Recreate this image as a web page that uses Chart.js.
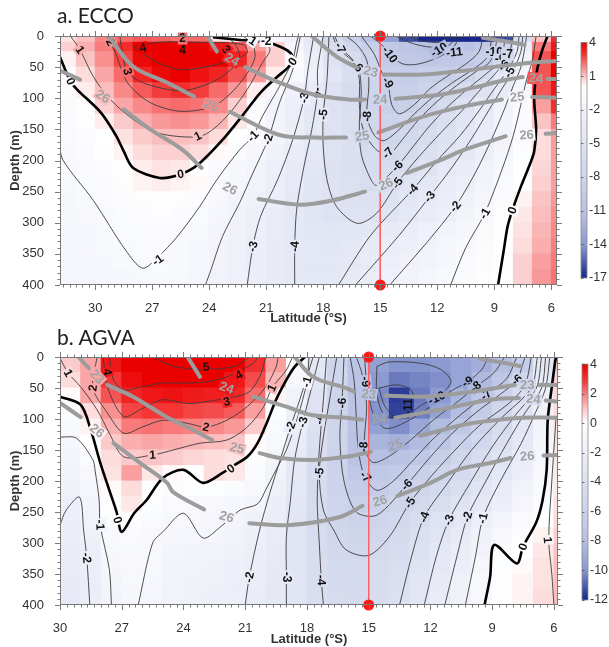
<!DOCTYPE html>
<html>
<head>
<meta charset="utf-8">
<script src="https://cdn.jsdelivr.net/npm/chart.js@4.4.1/dist/chart.umd.min.js"></script>
<style>
body{margin:0;background:#fff;width:609px;height:647px;overflow:hidden;position:relative}
.ttl{position:absolute;left:57px;font:21px Lato,'Open Sans',sans-serif;color:#222;line-height:26px}
#wa{position:absolute;left:0;top:0}
#wb{position:absolute;left:0;top:325px}
</style>
</head>
<body>
<div id="wa"><canvas id="ca" width="609" height="330"></canvas></div>
<div id="wb"><canvas id="cb" width="609" height="322"></canvas></div>
<div class="ttl" style="top:2px">a. ECCO</div>
<div class="ttl" style="top:324px">b. AGVA</div>
<script>
// ---- data ----
const xTicks = [30,27,24,21,18,15,12,9,6];
const depthTicks = [0,50,100,150,200,250,300,350,400];
const cbTicksA = [4,1,-2,-5,-8,-11,-14,-17];
const cbTicksB = [4,2,0,-2,-4,-6,-8,-10,-12];
const sectionLat = 15;

// panel a (ECCO) cells: rows = depth bands, columns = 1 degree bands
const latEdgesA = [32,31,30,29,28,27,26,25,24,23,22,21,20,19,18,17,16,15,14,13,12,11,10,9,8,7,6,5];
const depthEdgesA = [0,10,25,50,75,100,125,150,175,200,225,250,275,300,325,350,375,400];
const cellsA = [
 [0.5,1,1.8,2.2,2.4,2.3,2.1,2.2,0.5,-0.5,-1,-1.5,-2.5,-4,-6.5,-9,-11,-13.5,-16,-17,-17,-17,-17,-16,-6,1,3],
 [0.8,1.3,2.0,3.0,4.0,4.5,4.5,4.3,3.5,2.5,1.5,0.8,-1.5,-3.5,-6,-7.5,-9,-10,-10.5,-11,-11.5,-11,-10,-8,-3,2,3.5],
 [0.2,1.0,1.7,2.7,3.8,4.5,4.6,4.4,4.0,3.2,2.0,0.8,-0.6,-2.8,-4.8,-6.2,-8,-9.5,-10,-10.2,-10,-9.7,-9,-7,-2,2.5,4],
 [-0.3,0.6,1.4,2.2,3.2,3.8,4.0,3.6,3.2,2.5,1.6,0.3,-1.0,-2.6,-4.3,-5.8,-7.5,-9,-9.2,-9,-9,-8,-6.5,-4,-1.5,2.5,4],
 [-0.5,0.3,1.1,1.8,2.4,2.8,3.0,2.8,2.2,1.6,0.3,-1.2,-2.5,-3.7,-5,-6.5,-7.8,-8.8,-9,-8.3,-7.2,-6.2,-5,-3.5,-1.5,2.5,3.5],
 [-0.8,-0.1,0.8,1.4,1.8,2.1,2.2,2.1,1.8,0.8,-0.6,-1.8,-2.8,-4,-5.2,-5.8,-8,-8.9,-8.7,-8,-6.5,-5,-3.6,-2,-0.8,1.5,3],
 [-0.8,-0.4,0.3,0.9,1.3,1.6,1.7,1.6,1.2,0.4,-0.6,-1.8,-2.8,-4,-5,-5.6,-7.5,-8.3,-7.7,-6.8,-5.7,-4.5,-3.3,-1.8,-0.6,1,2],
 [-0.9,-0.5,0,0.5,0.9,1.1,1.1,1.0,0.6,-0.2,-0.9,-1.8,-2.8,-3.8,-5,-5.6,-7,-7.8,-7.2,-6.3,-5.3,-4.3,-3.2,-1.8,-0.6,0.6,1.5],
 [-1.0,-0.6,-0.2,0.2,0.6,0.8,0.8,0.6,0.1,-0.7,-1.4,-2.3,-3.2,-4.2,-5.1,-5.7,-6.5,-7.0,-6.6,-5.7,-4.8,-3.8,-2.8,-1.5,-0.4,0.6,1.5],
 [-1.0,-0.8,-0.5,-0.2,0.3,0.5,0.4,-0.1,-0.7,-1.3,-1.9,-2.7,-3.5,-4.4,-5.2,-5.7,-6.2,-6.3,-5.7,-4.8,-4.0,-3.2,-2.2,-1.2,-0.2,0.7,1.5],
 [-1.2,-0.9,-0.6,-0.3,0.2,0.3,0.2,0.1,-0.9,-1.5,-2.1,-2.9,-3.7,-4.5,-5.1,-5.5,-5.9,-5.6,-4.9,-4.1,-3.4,-2.7,-1.8,-0.9,-0.1,0.8,1.5],
 [-1.3,-1.1,-0.8,-0.5,-0.3,-0.2,-0.3,-0.5,-1.2,-1.8,-2.4,-3.1,-3.9,-4.6,-5.1,-5.3,-5.4,-5.0,-4.4,-3.7,-3.0,-2.3,-1.5,-0.6,0.2,1.0,1.6],
 [-1.4,-1.2,-1.0,-0.7,-0.5,-0.4,-0.6,-0.9,-1.5,-2.1,-2.7,-3.3,-4.0,-4.6,-5.0,-5.1,-5.0,-4.6,-4.0,-3.3,-2.6,-1.9,-1.2,-0.3,0.4,1.1,1.7],
 [-1.5,-1.3,-1.1,-0.9,-0.7,-0.6,-0.8,-1.1,-1.7,-2.3,-2.9,-3.4,-4.0,-4.3,-4.5,-4.4,-4.2,-3.6,-3.1,-2.5,-1.9,-1.3,-0.8,-0.2,0.5,1.2,1.8],
 [-1.5,-1.4,-1.2,-1.0,-0.9,-0.8,-1.0,-1.3,-1.8,-2.4,-3.0,-3.5,-4.0,-4.2,-4.3,-4.0,-3.6,-3.1,-2.6,-2.1,-1.6,-1.1,-0.7,-0.2,0.6,1.3,1.9],
 [-1.6,-1.5,-1.3,-1.1,-1.0,-0.9,-1.1,-1.4,-1.9,-2.5,-3.0,-3.5,-4.0,-4.2,-4.2,-3.8,-3.3,-2.8,-2.3,-1.8,-1.3,-0.9,-0.5,-0.1,0.8,1.5,2.0],
 [-1.6,-1.5,-1.4,-1.3,-1.2,-1.1,-1.2,-1.5,-2.0,-2.5,-3.0,-3.5,-4.0,-4.2,-4.1,-3.6,-3.1,-2.5,-2.0,-1.5,-1.1,-0.7,-0.3,0,0.8,1.6,2.1]
];
const contoursA = [
 [0,[[31.9,30],[31.3,73],[30.95,86],[29.7,123],[28.9,160],[28.5,185],[28.0,212],[26.6,228],[25.5,222],[24.6,207],[23.3,167],[22.2,126],[21.3,91],[20.4,65],[19.9,52],[19.6,40],[19.7,28],[20.2,18],[21,10],[22.5,6],[23.8,2]]],
 [0,[[6.2,0],[6.5,25],[6.75,55],[6.9,100],[6.8,150],[6.9,185],[7.1,204],[7.6,242],[8.05,280],[8.3,306],[8.5,344],[8.8,400]]],
 [1,[[31.3,0],[30.8,22],[30.1,65],[29.2,102],[28,134],[26.7,156],[24.6,162],[23.8,150],[22.9,123],[22,86],[21.2,43],[20.8,22],[21.2,8],[21.6,0]]],
 [2,[[29.4,0],[28.9,30],[28.3,75],[27.1,107],[25.5,121],[23.8,113],[22.8,90],[22.0,60],[21.6,35],[21.7,15],[22.2,0]]],
 [3,[[28.7,0],[28.6,22],[28.3,57],[27.5,75],[25.5,88],[23.9,75],[22.9,55],[22.4,35],[22.6,15],[23.1,0]]],
 [4,[[28,18],[26.7,43],[25.5,54],[24.1,49],[22.7,38],[22,27],[22.2,14],[24.5,10],[26.7,10],[28,18]]],
 [-1,[[31.9,170],[31.7,199],[30.1,264],[28.4,344],[27.5,373],[26.7,355],[25.7,323],[24.5,274],[23.6,231],[22.4,183],[21.7,161],[21.2,129],[20.3,81],[19.6,38],[19.4,10],[19.3,0]]],
 [-1,[[11.3,400],[10.5,340],[9.5,285],[8.6,215],[8.0,160],[7.6,110],[7.3,70],[7.0,40],[6.8,0]]],
 [-2,[[19.2,0],[19.6,54],[20.3,107],[20.9,166],[21.7,220],[22.4,268],[23.3,322],[23.9,375],[24.2,400]]],
 [-2,[[14.5,400],[12.5,330],[11.05,274],[10,220],[9.2,170],[8.5,120],[8,80],[7.6,50],[7.4,20],[7.3,0]]],
 [-3,[[18.5,0],[18.8,54],[19,99],[19.6,166],[20.4,231],[21.3,290],[21.7,338],[22,400]]],
 [-3,[[16.3,400],[14,320],[12.4,258],[11.2,210],[10.2,165],[9.3,120],[8.6,85],[8,55],[7.6,25],[7.5,0]]],
 [-4,[[18,0],[18.3,54],[18.3,91],[18.6,150],[19.05,215],[19.4,279],[19.5,338],[19.5,400]]],
 [-4,[[17.2,400],[15.5,320],[13.3,247],[12,200],[10.8,160],[9.8,120],[9,85],[8.3,55],[7.8,25],[7.7,0]]],
 [-5,[[17.7,0],[17.8,70],[18,126],[18,178],[17.8,231],[17.3,274],[16.2,301],[15.2,285],[14.1,236],[13,195],[11.8,155],[10.7,120],[9.7,85],[8.8,55],[8.2,25],[8,0]]],
 [-6,[[17.5,0],[17.2,20],[16.2,49],[16.0,90],[16.1,140],[16.0,190],[15.5,230],[15.2,240],[14.1,209],[13.2,175],[12.5,148],[11.5,115],[10.4,85],[9.4,60],[8.7,40],[8.4,0]]],
 [-7,[[17.4,0],[17.1,19],[16.4,40],[16.1,70],[16.1,110],[15.9,150],[15.3,180],[14.6,191],[13.8,165],[13.0,135],[12,105],[11,80],[10,58],[9.2,40],[8.8,0]]],
 [-8,[[16.8,0],[16.2,15],[15.7,40],[15.6,80],[15.7,129],[15.3,160],[14.8,168],[14.0,150],[13.2,125],[12.3,100],[11.2,75],[10.2,55],[9.4,35],[9.1,0]]],
 [-9,[[16.0,0],[15.3,30],[14.9,60],[14.6,75],[14.4,110],[14.0,125],[13.2,110],[12.4,85],[11.5,65],[10.5,45],[9.8,25],[9.6,0]]],
 [-10,[[15.5,0],[14.8,18],[14.5,30],[13.8,45],[13,45],[12,35],[11.2,20],[10.8,0]]],
 [-11,[[14.2,0],[13.3,12],[12.3,18],[11.4,15],[11.0,0]]],
 [-12,[[13.6,0],[12.8,8],[11.8,10],[11.3,0]]]
];
const isopycnalsA = [
 [23,[[18.6,0],[17.3,33],[16.2,51],null,[14.8,62],[12.7,62],[11,57],[8.85,49],[7.1,43],[5.7,40]]],
 [24,[[24.1,0],[23.6,25],null,[22.1,50],[20.3,75],[18.5,94],[16.7,102],[15.8,102],null,[14.2,101],[11.8,94],[10.1,83],[8.3,70],[7.5,66],null,[6.2,69],[5.7,69]]],
 [25,[[29.3,0],[28,49],[26.2,75],[24.8,97],null,[22.9,122],[20.3,159],[18.5,163],[16.8,163],null,[15.1,155],[12.7,129],[10.6,113],[8.6,102],null,[7.0,98],[5.7,99]]],
 [26,[[31.9,55],[30.8,70],null,[28.5,118],[27.1,150],[25.4,183],[24.4,212],null,[21.4,262],[19.2,271],[17.5,264],[15.8,250],null,[13.6,220],[11.8,199],[10.6,183],[8.4,161],null,[6.3,157],[5.7,156]]],
 [22,[[9.6,3],[8.5,8],[7.4,14]]]
];
const labelsA = [
 ['4',27.5,19],['4',25.4,22],['3',28.3,57],['3',23.1,22],['2',29.2,10],['2',25.4,4],['1',30.8,22],['1',24.6,161],
 ['1',21.7,8],['-2',21.0,8],['0',31.3,73],['0',25.5,222],['0',19.6,41],['0',8.05,280],
 ['-1',26.7,360],['-1',21.7,161],['-1',9.5,285],['-2',20.9,166],['-2',11.05,274],
 ['-3',19,99],['-3',21.7,338],['-3',12.4,258],['-4',18.3,91],['-4',19.5,338],['-4',13.3,247],
 ['-5',18,126],['-5',14.1,236],['-6',16.2,49],['-6',14.1,209],['-7',17.1,19],['-7',14.6,188],
 ['-8',15.7,129],['-9',14.6,75],['-10',14.5,30],['-10',11.9,22],['-11',11.1,26],
 ['-10',9.0,26],['-9',8.7,38],['-7',8.3,30],['-6',8.5,47],['-5',8.2,58]
];
const isoLabelsA = [
 ['23',15.5,57],['24',22.8,38],['24',15.0,102],['24',6.8,68],['25',23.9,112],['25',15.95,161],['25',7.8,98],
 ['26',29.6,97],['26',22.9,245],['26',14.7,238],['26',7.3,159]
];

// panel b (AGVA)
const latEdgesB = [30,29,28,27,26,25,24,23,22,21,20,19,18,17,16,15,14,13,12,11,10,9,8,7,6,5];
const depthEdgesB = [0,25,50,75,100,125,150,175,200,225,250,275,300,325,350,375,400];
const cellsB = [
 [0.9,1.4,3.5,4.4,4.8,5.1,5.2,5.2,4.6,3.0,1.5,-0.5,-3,-5.5,-7.5,-9.5,-10,-10,-9.8,-9.3,-8.8,-8,-6.5,-3,1],
 [0.6,1.4,2.9,3.7,4.1,4.2,4.2,4.1,3.5,2.6,1.2,-0.8,-3.2,-5.3,-7.5,-9.8,-10.5,-10.3,-10.1,-9.3,-8.3,-7.2,-5.5,-2.5,0.8],
 [0.1,1.4,2.5,3.2,3.5,3.6,3.4,3.3,3.1,2.2,0.2,-1.5,-3.5,-5.6,-7.5,-10.2,-11.6,-10.5,-9.8,-8.5,-7.2,-5.8,-4.2,-1.8,0.7],
 [-0.4,0.6,1.7,2.7,2.9,2.9,2.7,2.6,2.4,1.5,-0.3,-1.8,-3.6,-5.6,-7.5,-10,-11.5,-10.4,-9.3,-8.1,-6.6,-5.2,-3.6,-1.6,0.6],
 [-0.7,0.2,1.3,2.0,2.1,2.0,1.9,1.8,1.6,0.9,-0.6,-2.1,-3.8,-5.6,-7.5,-9.5,-10.1,-9.2,-8.2,-7.1,-5.8,-4.6,-3.1,-1.4,0.5],
 [-1.0,-0.1,0.9,1.3,1.4,1.3,1.2,1.1,1.0,0.1,-0.9,-2.4,-4.0,-5.6,-7.6,-8.5,-8.7,-8.2,-7.3,-6.2,-5.1,-4.0,-2.7,-1.2,0.5],
 [-1.2,-0.4,0.6,0.9,1.0,0.9,0.7,0.6,0.5,-0.2,-1.2,-2.6,-4.2,-5.8,-7.6,-7.9,-7.6,-7.2,-6.4,-5.4,-4.4,-3.4,-2.3,-1.0,0.4],
 [-1.3,-0.8,0.5,1.5,0.4,0.1,0.0,0.6,0.4,-0.6,-1.5,-2.8,-4.5,-5.9,-7.1,-7.1,-6.8,-6.2,-5.5,-4.7,-3.8,-2.9,-1.9,-0.8,0.4],
 [-1.6,-1.0,0.1,0.6,-0.1,-0.4,-0.3,-0.3,-0.5,-0.9,-1.7,-3.0,-4.6,-5.9,-6.6,-6.6,-6.1,-5.5,-4.8,-4.1,-3.3,-2.4,-1.5,-0.6,0.4],
 [-1.8,-1.3,-0.2,0.4,-0.3,-0.6,-0.7,-0.8,-1.0,-1.2,-2.0,-3.1,-4.6,-5.7,-6.2,-6.1,-5.6,-4.9,-4.2,-3.5,-2.7,-1.9,-1.1,-0.4,0.5],
 [-2.0,-1.5,-0.4,-0.3,-0.6,-0.9,-0.8,-1.0,-1.3,-1.6,-2.2,-3.2,-4.6,-5.5,-5.9,-5.7,-5.1,-4.4,-3.6,-2.9,-2.0,-1.2,-0.6,-0.1,0.6],
 [-2.2,-1.7,-0.7,-0.6,-0.8,-1.0,-1.0,-1.1,-1.4,-1.8,-2.4,-3.3,-4.5,-5.2,-5.5,-5.3,-4.7,-4.0,-3.3,-2.5,-1.6,-0.8,-0.3,0.2,0.8],
 [-2.3,-1.9,-0.9,-0.7,-0.9,-1.2,-1.3,-1.4,-1.6,-2.0,-2.5,-3.3,-4.4,-5.0,-5.2,-4.9,-4.4,-3.7,-3.0,-2.2,-1.4,-0.5,0,0.4,1.0],
 [-2.4,-2.0,-1.1,-0.8,-0.9,-1.3,-1.5,-1.6,-1.8,-2.1,-2.6,-3.3,-4.3,-4.8,-4.9,-4.6,-4.1,-3.4,-2.7,-1.9,-1.1,-0.3,0.1,0.5,1.1],
 [-2.5,-2.1,-1.2,-0.9,-1.0,-1.4,-1.6,-1.7,-1.9,-2.2,-2.7,-3.3,-4.2,-4.7,-4.8,-4.5,-3.9,-3.2,-2.5,-1.7,-0.9,-0.2,0.2,0.5,1.1],
 [-2.6,-2.2,-1.3,-1.0,-1.1,-1.5,-1.7,-1.8,-2.0,-2.3,-2.8,-3.3,-4.1,-4.6,-4.7,-4.4,-3.8,-3.1,-2.4,-1.6,-0.8,-0.1,0.2,0.6,1.1]
];
const contoursB = [
 [0,[[30,64],[29,77],[28.5,118],[28.05,170],[27.6,215],[27.25,250],[27,282],[26.4,252],[25.8,231],[25,195],[24,182],[23.05,203],[22.1,187],[21.7,178],[20.9,161],[20.4,139],[19.95,106],[19.5,69],[19,37],[18.6,16],[18.1,0]]],
 [0,[[9.37,400],[9.1,355],[8.9,303],[7.8,333],[7.5,306],[6.85,266],[6.55,231],[6.35,182],[6.3,102],[6.1,48],[5.95,10],[5.9,0]]],
 [1,[[6.0,400],[6.1,350],[6.25,295],[6.1,200],[5.9,100]]],
 [5,[[25.5,0],[24.5,15],[23,20],[21.5,15],[20.8,0]]],
 [4,[[27.6,0],[27.4,37],[26.9,53],[26,48],[25,42],[23.8,42],[22.9,40],[21.9,32],[20.6,10],[20.4,0]]],
 [3,[[27.9,0],[27.7,48],[26.9,96],[26,83],[25,69],[23.8,75],[22.9,72],[20.9,58],[20.3,32],[20,0]]],
 [2,[[28.2,0],[28.4,50],[27.7,90],[26.9,123],[26,113],[25,102],[23.8,107],[22.9,113],[21.9,102],[20.9,80],[20,48],[19.5,16],[19.4,0]]],
 [1,[[30,2],[29.6,26],[29,48],[28.2,85],[27.6,123],[26.9,161],[25.5,158],[24.5,150],[23.2,139],[21.9,134],[20.9,113],[20.1,80],[19.7,50],[19,21],[18.7,0]]],
 [-1,[[30,129],[29.2,131],[28.4,166],[28.3,182],[28.1,230],[28.05,271],[27.6,343],[27.5,400]]],
 [-2,[[30,271],[29.7,247],[29.05,226],[28.85,280],[28.7,324],[28.55,400]]],
 [-1,[[26.2,400],[25.5,300],[25,282],[24,252],[23.05,292],[22.2,274],[21.25,247],[20.4,237],[20,214],[19.5,182],[19,150],[18.45,97],[18.0,40],[17.9,0]]],
 [-1,[[10.3,400],[9.8,320],[9.45,260],[8.6,200],[7.6,140],[6.9,90],[6.4,50],[6.2,0]]],
 [-2,[[17.7,0],[18.35,69],[18.8,113],[19.3,166],[19.8,219],[20.3,279],[20.8,355],[21.0,400]]],
 [-2,[[11.3,400],[10.7,320],[10.2,258],[9.3,200],[8.3,140],[7.4,90],[6.6,50],[6.4,0]]],
 [-3,[[17.4,0],[17.8,53],[18.2,105],[18.6,166],[18.8,231],[19,290],[19,355],[19,400]]],
 [-3,[[12.3,400],[11.7,320],[11.1,263],[10.1,205],[9.0,145],[7.9,95],[6.85,50],[6.6,0]]],
 [-4,[[17.05,0],[17.2,69],[17.4,150],[17.5,231],[17.4,300],[17.3,360],[17.2,400]]],
 [-4,[[13.5,400],[12.9,320],[12.3,258],[11.2,205],[10.0,150],[8.6,100],[7.1,50],[6.8,0]]],
 [-5,[[16.55,0],[16.9,69],[17.2,129],[17.4,187],[17.2,247],[16.7,279],[16.1,311],[15.0,320],[14,290],[13.0,235],[11.9,190],[10.8,150],[9.6,110],[8.2,75],[7.4,45],[7.1,0]]],
 [-6,[[16.2,0],[16.25,40],[16.3,74],[16.4,130],[16.2,200],[15.6,250],[14.6,255],[13.15,206],[12.1,165],[11.0,125],[9.8,90],[8.6,60],[7.8,37],[7.4,0]]],
 [-7,[[15.9,0],[15.7,40],[15.6,100],[15.5,150],[15.2,193],[14.6,215],[13.8,200],[12.8,165],[11.8,130],[10.6,95],[9.3,61],[8.3,35],[7.8,0]]],
 [-8,[[15.6,0],[15.3,30],[15.1,80],[15.2,145],[14.8,170],[14.0,160],[13,135],[11.8,100],[10.6,70],[9.8,48],[8.9,25],[8.4,0]]],
 [-9,[[15.2,0],[15.1,40],[14.8,90],[14.2,115],[13.2,105],[12,80],[11,55],[10.2,40],[9.5,20],[9.2,0]]],
 [-10,[[14.6,15],[14.6,60],[14.2,95],[13.3,95],[12.3,75],[11.7,66],[11,40],[11.5,20],[12.5,10],[14,8],[14.6,15]]],
 [-11,[[14.5,50],[14.2,80],[13.5,100],[12.9,85],[12.9,55],[13.6,45],[14.5,50]]]
];
const isopycnalsB = [
 [23,[[29.1,0],[28.6,18]]],
 [25,[[27.7,45],[26.45,64],[24.8,97],[23.5,118],[22.6,134],null,[20.3,155],[19.3,163],[17.7,166],[16.1,161],[14.9,153],null,[12.5,127],[10,107],[7.5,98],[5.8,98]]],
 [23,[[18.6,0],[17.7,32],[16.1,50],[15.7,56],null,[14.2,62],[12.4,64],[10,56],[7.9,45],null,[6.7,45],[5.8,45]]],
 [24,[[23.8,0],[23.2,32],null,[20.6,64],[19,80],[17.7,94],[16.1,98],[15.3,101],null,[13.7,98],[11.55,85],[9.1,69],[7.7,66],null,[6.4,70],[5.8,72]]],
 [26,[[30,74],[29,97],null,[27.4,139],[26.1,171],[24.8,203],[24.5,218],[23.0,246],null,[20.8,268],[18.8,271],[16.4,258],[15.3,240],null,[13.6,224],[12,203],[10.7,182],[9.1,171],[8.1,163],null,[6.5,159],[5.8,158]]],
 [22,[[9.6,3],[8.5,9],[7.6,15]]]
];
const labelsB = [
 ['5',22.9,16],['4',27.7,24],['4',21.3,29],['3',21.9,72],['2',28.4,50],['2',22.9,113],['1',29.6,26],['1',25.5,158],['1',19.7,50],
 ['0',27.2,263],['0',21.7,180],['0',7.5,306],['1',6.3,295],['-1',28.05,271],['-2',28.7,324],
 ['-1',18.0,40],['-2',18.8,113],['-3',18.2,105],['-4',17.4,100],['-2',20.8,355],['-3',19,355],['-4',17.3,360],
 ['-5',17.4,187],['-6',16.3,74],['-9',15.15,40],['-8',15.25,145],['-7',15.15,193],['-11',13.1,80],['-10',11.7,66],
 ['-9',10.2,40],['-8',9.8,48],['-7',9.3,61],['-6',7.8,37],['-6',13.15,206],['-5',13.0,235],['-4',12.3,258],
 ['-3',11.1,263],['-2',10.2,258],['-1',9.45,260]
];
const isoLabelsB = [
 ['23',28.2,32],['23',15.0,60],['23',7.3,45],['24',21.9,50],['24',14.5,100],['24',7.0,68],
 ['25',21.4,147],['25',13.7,142],['26',28.2,119],['26',21.9,258],['26',14.45,232],['26',7.3,160]
];

// ---- colours ----
const posStops = [[0,[255,255,255]],[0.25,[251,196,196]],[0.5,[248,122,122]],[0.75,[242,45,45]],[1,[235,0,0]]];
const negStops = [[0,[255,255,255]],[0.17,[236,238,248]],[0.33,[219,223,240]],[0.5,[203,210,234]],[0.67,[181,191,226]],[0.83,[136,151,207]],[1,[22,38,138]]];
function ramp(stops, t) {
  t = Math.max(0, Math.min(1, t));
  for (let k = 1; k < stops.length; k++) {
    if (t <= stops[k][0]) {
      const [t0, c0] = stops[k-1], [t1, c1] = stops[k];
      const f = (t - t0) / (t1 - t0);
      return 'rgb(' + c0.map((c, i) => Math.round(c + (c1[i] - c) * f)).join(',') + ')';
    }
  }
  return 'rgb(' + stops[stops.length-1][1].join(',') + ')';
}
function colorFor(v, vmin, vmax) {
  return v >= 0 ? ramp(posStops, v / vmax) : ramp(negStops, v / vmin);
}

Chart.defaults.font.family = "'Liberation Sans', Arial, sans-serif";
Chart.defaults.color = '#333';

function toXY(pts) {
  return pts.map(p => p ? {x: p[0], y: p[1]} : {x: null, y: null});
}

function cellValue(P, lat, dep) {
  let i = -1, j = -1;
  for (let k = 0; k < P.lats.length - 1; k++) if (lat <= P.lats[k] && lat >= P.lats[k+1]) { j = k; break; }
  for (let k = 0; k < P.depths.length - 1; k++) if (dep >= P.depths[k] && dep <= P.depths[k+1]) { i = k; break; }
  return (i < 0 || j < 0) ? 0 : P.cells[i][j];
}

// angle of the nearest piece of the line with the label's level
function labelAngle(chart, lines, px, py) {
  const x = chart.scales.x, y = chart.scales.y;
  let best = Infinity, ang = 0;
  lines.forEach(pts => {
    for (let k = 1; k < pts.length; k++) {
      const a = pts[k-1], b = pts[k];
      const ax = x.getPixelForValue(a[0]), ay = y.getPixelForValue(a[1]);
      const bx = x.getPixelForValue(b[0]), by = y.getPixelForValue(b[1]);
      const dx = bx - ax, dy = by - ay, L = dx*dx + dy*dy || 1;
      let t = ((px - ax)*dx + (py - ay)*dy) / L;
      t = Math.max(0, Math.min(1, t));
      const d = Math.hypot(ax + t*dx - px, ay + t*dy - py);
      if (d < best) { best = d; ang = Math.atan2(dy, dx); }
    }
  });
  if (best > 14) return 0;
  if (ang > Math.PI/2) ang -= Math.PI;
  if (ang < -Math.PI/2) ang += Math.PI;
  return ang;
}

function drawLabels(chart, P, list, lines, font, color) {
  const ctx = chart.ctx, x = chart.scales.x, y = chart.scales.y;
  ctx.save();
  ctx.font = font; ctx.textAlign = 'center'; ctx.textBaseline = 'middle';
  list.forEach(([txt, lat, dep]) => {
    const px = x.getPixelForValue(lat), py = y.getPixelForValue(dep);
    const lv = parseFloat(txt);
    const ls = lines.filter(l => l[0] === lv).map(l => l[1].filter(Boolean));
    const ang = labelAngle(chart, ls, px, py);
    const w = ctx.measureText(txt).width + 3;
    ctx.save();
    ctx.translate(px, py); ctx.rotate(ang);
    ctx.fillStyle = colorFor(cellValue(P, lat, dep), P.vmin, P.vmax);
    ctx.fillRect(-w/2, -6, w, 12);
    ctx.fillStyle = color;
    ctx.fillText(txt, 0, 0.5);
    ctx.restore();
  });
  ctx.restore();
}

function panelPlugin(P) {
  return {
    id: 'panel',
    beforeDatasetsDraw(chart) {
      const {ctx, chartArea: a, scales: {x, y}} = chart;
      ctx.save();
      ctx.beginPath(); ctx.rect(a.left, a.top, a.width, a.height); ctx.clip();
      P.cells.forEach((row, i) => row.forEach((v, j) => {
        const x0 = x.getPixelForValue(P.lats[j]), x1 = x.getPixelForValue(P.lats[j+1]);
        const y0 = y.getPixelForValue(P.depths[i]), y1 = y.getPixelForValue(P.depths[i+1]);
        ctx.fillStyle = colorFor(v, P.vmin, P.vmax);
        ctx.fillRect(Math.min(x0, x1) - 0.4, y0 - 0.4, Math.abs(x1 - x0) + 0.8, y1 - y0 + 0.8);
      }));
      ctx.restore();
    },
    // black labels go on after the last black contour is drawn, before the grey lines
    afterDatasetDraw(chart, args) {
      if (args.index === P.lastBlack) {
        drawLabels(chart, P, P.labels, P.contours, 'bold 12px "Liberation Sans", Arial, sans-serif', '#111');
      }
    },
    afterDatasetsDraw(chart) {
      drawLabels(chart, P, P.isoLabels, P.isos, 'bold 13px "Liberation Sans", Arial, sans-serif', '#a2a2a2');
    },
    afterDraw(chart) {
      const {ctx, chartArea: a, scales: {x, y, cb}} = chart;
      ctx.save();
      // frame and ticks
      ctx.strokeStyle = '#7a7a7a'; ctx.lineWidth = 1;
      ctx.strokeRect(Math.round(a.left) + 0.5, Math.round(a.top) + 0.5, Math.round(a.width) - 1, Math.round(a.height) - 1);
      ctx.beginPath();
      for (let i = Math.ceil(x.min * 3); i <= Math.floor(x.max * 3); i++) {
        const px = Math.round(x.getPixelForValue(i / 3)) + 0.5, L = i % 9 === 0 ? 5 : 2.5;
        ctx.moveTo(px, a.bottom); ctx.lineTo(px, a.bottom + L);
        ctx.moveTo(px, a.top); ctx.lineTo(px, a.top - L);
      }
      for (let v = 0; v <= 400; v += 10) {
        const py = Math.round(y.getPixelForValue(v)) + 0.5, L = v % 50 === 0 ? 5 : 2.5;
        ctx.moveTo(a.left, py); ctx.lineTo(a.left - L, py);
        ctx.moveTo(a.right, py); ctx.lineTo(a.right + L, py);
      }
      ctx.stroke();
      // colour bar
      const top = cb.getPixelForValue(P.vmax), bot = cb.getPixelForValue(P.vmin);
      const bx = a.right + 24, bw = 6;
      for (let py = Math.floor(top); py < bot; py++) {
        ctx.fillStyle = colorFor(cb.getValueForPixel(py + 0.5), P.vmin, P.vmax);
        ctx.fillRect(bx, py, bw, 1);
      }
      ctx.strokeStyle = '#8a8a8a'; ctx.lineWidth = 0.8;
      ctx.strokeRect(bx, top, bw, bot - top);
      ctx.beginPath();
      P.cbTicks.forEach(v => { const py = Math.round(cb.getPixelForValue(v)) + 0.5; ctx.moveTo(bx, py); ctx.lineTo(bx + 2.5, py); });
      ctx.strokeStyle = '#555'; ctx.stroke();
      ctx.restore();
    }
  };
}

function makePanel(canvasId, P) {
  const ds = [];
  ds.push({data: [{x: sectionLat, y: 0}, {x: sectionLat, y: 400}], showLine: true, borderColor: '#ff6060', borderWidth: 1,
    pointRadius: 5.5, pointBackgroundColor: '#ff1a1a', pointBorderWidth: 0, clip: false, tension: 0});
  P.isos.forEach(([lv, pts]) => ds.push({data: toXY(pts), showLine: true, borderColor: '#9c9c9c', borderWidth: 4,
    tension: 0.35, borderCapStyle: 'round', borderJoinStyle: 'round'}));
  P.lastBlack = ds.length;   // datasets are painted from the last one to the first
  P.contours.filter(c => c[0] === 0).forEach(([lv, pts]) => ds.push({data: toXY(pts), showLine: true, borderColor: '#000',
    borderWidth: 2.6, tension: 0.3}));
  P.contours.filter(c => c[0] !== 0).forEach(([lv, pts]) => ds.push({data: toXY(pts), showLine: true, borderColor: '#3c3c3c',
    borderWidth: 0.9, tension: 0.3}));

  const tickFont = {size: 13};
  return new Chart(document.getElementById(canvasId), {
    type: 'scatter',
    data: {datasets: ds},
    plugins: [panelPlugin(P)],
    options: {
      responsive: false, animation: false, events: [],
      layout: {padding: {top: P.padTop, left: 0, right: 0, bottom: 0}},
      elements: {point: {radius: 0}},
      plugins: {legend: {display: false}, tooltip: {enabled: false}},
      scales: {
        x: {type: 'linear', reverse: true, min: P.xmin, max: P.xmax,
          afterBuildTicks: s => { s.ticks = xTicks.map(v => ({value: v})); },
          afterFit: s => { s.height = P.xH; },
          grid: {display: false}, border: {display: false},
          ticks: {autoSkip: false, maxRotation: 0, padding: 8, font: tickFont, color: '#333'},
          title: {display: true, text: 'Latitude (°S)', font: {size: 13, weight: 'bold'}, color: '#333',
            padding: {top: 0, bottom: P.xTitlePad}}},
        y: {type: 'linear', reverse: true, min: 0, max: 400,
          afterBuildTicks: s => { s.ticks = depthTicks.map(v => ({value: v})); },
          afterFit: s => { s.width = 60; },
          grid: {display: false}, border: {display: false},
          ticks: {autoSkip: false, padding: 8, font: tickFont, color: '#333'},
          title: {display: true, text: 'Depth (m)', font: {size: 13, weight: 'bold'}, color: '#333', padding: {top: 8, bottom: 0}}},
        cb: {type: 'linear', axis: 'y', position: 'right', min: P.cbMin, max: P.cbMax,
          afterBuildTicks: s => { s.ticks = P.cbTicks.map(v => ({value: v})); },
          afterFit: s => { s.width = P.cbW; },
          grid: {display: false}, border: {display: false},
          ticks: {autoSkip: false, padding: 24, font: {size: 12.5}, color: '#333'}}
      }
    }
  });
}

makePanel('ca', {lats: latEdgesA, depths: depthEdgesA, cells: cellsA, vmin: -17, vmax: 4,
  xmin: 5.7, xmax: 31.85, cbMin: -17.63, cbMax: 4.58, cbTicks: cbTicksA,
  contours: contoursA, isos: isopycnalsA, labels: labelsA, isoLabels: isoLabelsA,
  padTop: 36, xH: 45, xTitlePad: 4, cbW: 52});
makePanel('cb', {lats: latEdgesB, depths: depthEdgesB, cells: cellsB, vmin: -12, vmax: 4,
  xmin: 5.8, xmax: 30, cbMin: -12.34, cbMax: 4.48, cbTicks: cbTicksB,
  contours: contoursB, isos: isopycnalsB, labels: labelsB, isoLabels: isoLabelsB,
  padTop: 32, xH: 42, xTitlePad: 0, cbW: 51});
</script>
</body>
</html>
